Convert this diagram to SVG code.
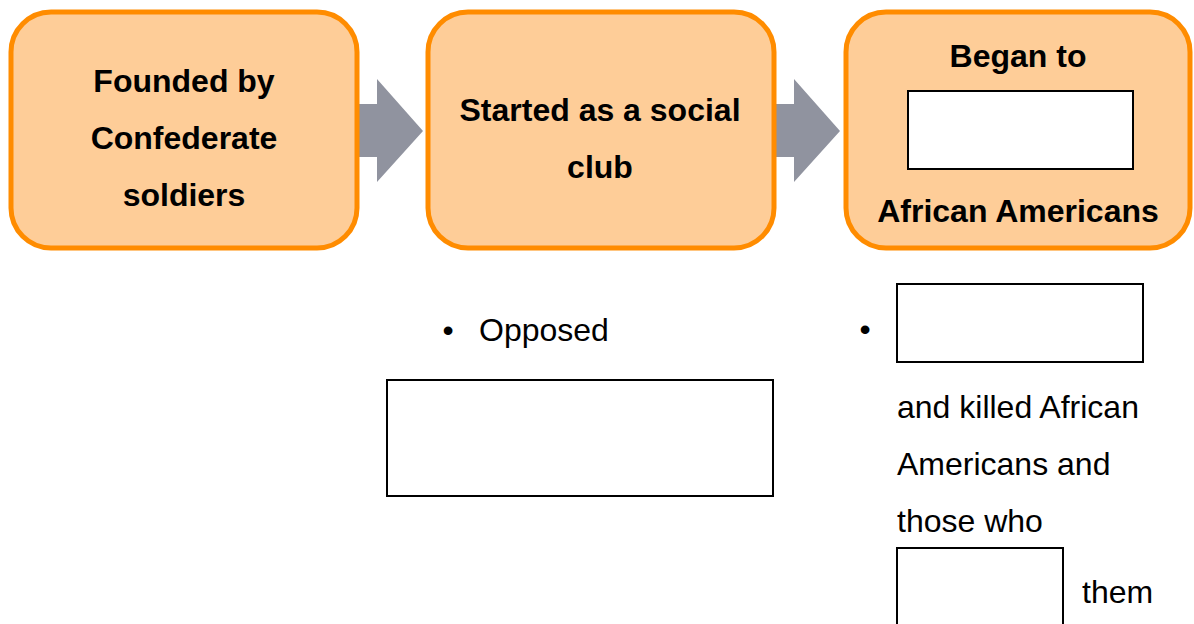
<svg xmlns="http://www.w3.org/2000/svg" width="1194" height="624" viewBox="0 0 1194 624">
  <style>
    .step { fill: #FECD98; stroke: #FF8C00; stroke-width: 5; }
    .blank { fill: #FFFFFF; stroke: #000000; stroke-width: 2; }
    .arrow { fill: #90939F; }
    .head { font-family: "Liberation Sans", Arial, sans-serif; font-size: 32px; font-weight: bold; fill: #000; text-anchor: middle; }
    .body { font-family: "Liberation Sans", Arial, sans-serif; font-size: 32px; fill: #000; }
  </style>
  <rect width="1194" height="624" fill="#FFFFFF"/>

  <!-- connectors: block arrows between the steps -->
  <g id="connectors">
    <polygon class="arrow" points="357,104 377,104 377,79 423,131 377,182 377,157 357,157"/>
    <polygon class="arrow" points="774,104 794,104 794,79 840,131 794,182 794,157 774,157"/>
  </g>

  <g id="step1">
    <rect class="step" x="11" y="12" width="346" height="236" rx="40" ry="40"/>
    <text class="head" x="184" y="92">Founded by</text>
    <text class="head" x="184" y="149">Confederate</text>
    <text class="head" x="184" y="206">soldiers</text>
  </g>

  <g id="step2">
    <rect class="step" x="428" y="12" width="346" height="236" rx="40" ry="40"/>
    <text class="head" x="600" y="121">Started as a social</text>
    <text class="head" x="600" y="178">club</text>
  </g>

  <g id="step3">
    <rect class="step" x="846" y="12" width="344" height="236" rx="40" ry="40"/>
    <text class="head" x="1018" y="67">Began to</text>
    <rect class="blank" x="908" y="91" width="225" height="78"/>
    <text class="head" x="1018" y="222">African Americans</text>
  </g>

  <g id="opposed">
    <text class="body" x="448" y="341" text-anchor="middle">•</text>
    <text class="body" x="479" y="341">Opposed</text>
    <rect class="blank" x="387" y="380" width="386" height="116"/>
  </g>

  <g id="violence">
    <text class="body" x="865" y="340" text-anchor="middle">•</text>
    <rect class="blank" x="897" y="284" width="246" height="78"/>
    <text class="body" x="897" y="418">and killed African</text>
    <text class="body" x="897" y="475">Americans and</text>
    <text class="body" x="897" y="532">those who</text>
    <rect class="blank" x="897" y="548" width="166" height="100"/>
    <text class="body" x="1082" y="603">them</text>
  </g>
</svg>
